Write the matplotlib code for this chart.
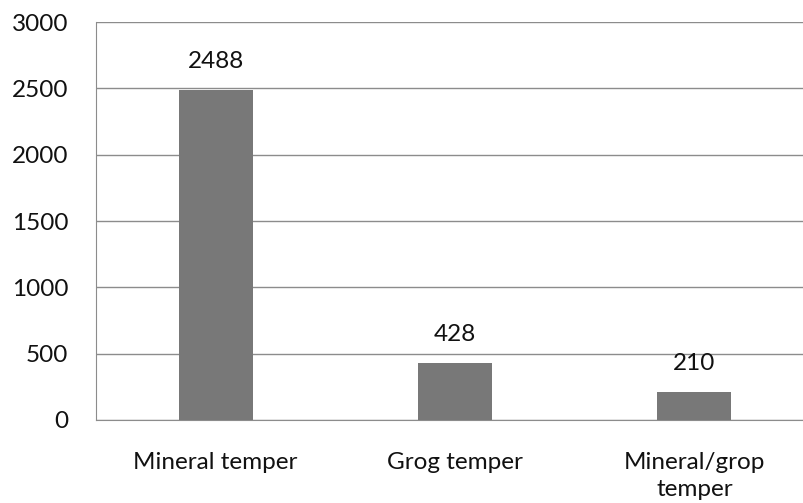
import matplotlib
matplotlib.use("Agg")
import matplotlib.pyplot as plt

categorias = ["Mineral temper", "Grog temper", "Mineral/grop\ntemper"]
valores = [2488, 428, 210]
yticks = [0, 500, 1000, 1500, 2000, 2500, 3000]

plt.rcParams["font.family"] = ["Lato", "DejaVu Sans"]

fig = plt.figure(figsize=(8.04, 5.03), dpi=100)
ax = fig.add_axes([96 / 804, (503 - 420) / 503, 718 / 804, 398 / 503])

x = range(len(categorias))
ax.bar(x, valores, width=0.31, color="#787878", zorder=3)
for xi, v in zip(x, valores):
    ax.annotate(str(v), (xi, v), xytext=(0, 13), textcoords="offset points",
                ha="center", va="bottom", fontsize=17.5, color="#111111")

ax.set_xlim(-0.5, 2.5)
ax.set_ylim(0, 3000)
ax.set_yticks(yticks)
ax.set_xticks(list(x))
ax.set_xticklabels(categorias, fontsize=17.5, color="#111111", linespacing=1.35)
ax.tick_params(axis="y", length=0, pad=20, labelsize=17.5, labelcolor="#111111")
ax.tick_params(axis="x", length=0, pad=23)
ax.grid(axis="y", color="#8c8c8c", linewidth=1, zorder=0)
for side in ("top", "right"):
    ax.spines[side].set_visible(False)
ax.spines["left"].set_color("#8c8c8c")
ax.spines["bottom"].set_color("#8c8c8c")

fig.savefig("out.png", dpi=100)
